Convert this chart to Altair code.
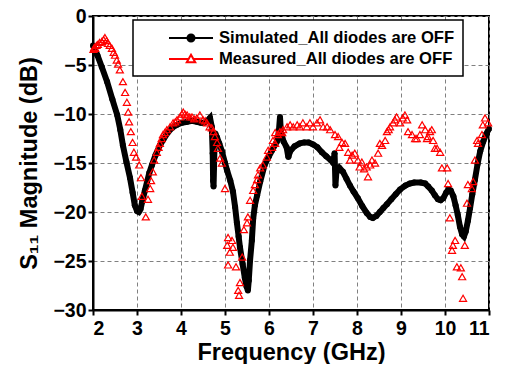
import altair as alt
import pandas as pd

# ---------------- data ----------------
sim_f = [2.0, 2.1, 2.2, 2.32, 2.44, 2.55, 2.62, 2.68, 2.76, 2.84, 2.9, 2.95, 3.0, 3.04, 3.08,
         3.12, 3.18, 3.23, 3.28, 3.34, 3.42, 3.52, 3.6, 3.7, 3.8, 3.91, 4.02, 4.14, 4.25, 4.36,
         4.45, 4.52, 4.6, 4.66, 4.7, 4.72, 4.73, 4.74, 4.75, 4.76, 4.78, 4.82, 4.87, 4.93, 5.0,
         5.05, 5.12, 5.18, 5.23, 5.27, 5.31, 5.34, 5.4, 5.45, 5.49, 5.52, 5.54, 5.57, 5.61, 5.64,
         5.68, 5.73, 5.8, 5.9, 6.0, 6.07, 6.18, 6.22, 6.25, 6.27, 6.33, 6.4, 6.44, 6.48, 6.58,
         6.7, 6.8, 6.9, 7.0, 7.1, 7.2, 7.3, 7.4, 7.46, 7.49, 7.5, 7.51, 7.53, 7.6, 7.68, 7.76,
         7.84, 7.92, 8.02, 8.12, 8.22, 8.3, 8.36, 8.44, 8.52, 8.6, 8.68, 8.78, 8.88, 8.98, 9.1,
         9.2, 9.3, 9.45, 9.55, 9.62, 9.7, 9.77, 9.84, 9.9, 9.96, 10.03, 10.08, 10.13, 10.19,
         10.24, 10.29, 10.34, 10.39, 10.43, 10.47, 10.52, 10.57, 10.62, 10.68, 10.74, 10.8,
         10.87, 10.93, 11.0]
sim_db = [-3.0, -4.0, -5.2, -6.7, -8.5, -10.1, -11.6, -13.2, -14.9, -16.5, -18.0, -19.3, -19.9,
          -20.0, -19.7, -18.9, -17.8, -16.9, -16.0, -15.2, -14.2, -13.2, -12.6, -11.9, -11.4,
          -11.1, -10.9, -10.8, -10.7, -10.8, -10.9, -10.9, -10.7, -10.4, -11.3, -14.0, -16.8,
          -17.4, -15.5, -13.5, -12.0, -12.4, -13.0, -13.8, -15.0, -15.8, -16.8, -17.9, -19.5,
          -21.1, -22.5, -23.6, -25.3, -26.7, -27.6, -28.0, -27.0, -24.9, -22.9, -20.7, -19.3,
          -18.3, -16.9, -15.2, -14.3, -13.7, -12.8, -12.0, -10.3, -11.8, -12.8, -13.4, -14.4,
          -13.8, -13.3, -13.0, -12.9, -12.9, -13.1, -13.4, -13.9, -14.3, -14.7, -15.0, -14.0,
          -15.5, -17.3, -16.0, -15.5, -15.9, -16.6, -17.3, -17.9, -18.6, -19.4, -20.1, -20.5,
          -20.6, -20.4, -20.0, -19.6, -19.2, -18.7, -18.2, -17.7, -17.3, -17.1, -17.0, -17.0,
          -17.1, -17.4, -17.8, -18.3, -18.7, -18.8, -18.6, -18.0, -17.7, -17.8, -18.4, -19.3,
          -20.3, -21.5, -22.3, -22.5, -22.0, -20.9, -19.6, -18.2, -16.7, -15.1, -13.8, -12.8,
          -12.1, -11.5]

meas_f = [2.01, 2.03, 2.05, 2.08, 2.11, 2.15, 2.2, 2.24, 2.27, 2.31, 2.34, 2.38, 2.43, 2.47, 2.5,
          2.54, 2.57, 2.61, 2.68, 2.73, 2.77, 2.8, 2.82, 2.86, 2.9, 2.93, 2.98, 3.05, 3.09, 3.11,
          3.2, 3.25, 3.3, 3.32, 3.36, 3.39, 3.45, 3.49, 3.52, 3.56, 3.59, 3.63, 3.68, 3.75, 3.82,
          3.87, 3.91, 3.98, 4.02, 4.05, 4.09, 4.14, 4.2, 4.25, 4.3, 4.36, 4.43, 4.5, 4.55, 4.59,
          4.65, 4.7, 4.74, 4.77, 4.82, 4.84, 4.89, 4.93, 5.0, 5.05, 5.07, 5.11, 5.16, 5.18, 5.07,
          5.25, 5.34, 5.3, 5.32, 5.39, 5.43, 5.5, 5.52, 5.57, 5.64, 5.68, 5.73, 5.75, 5.8, 5.86,
          5.95, 5.98, 6.07, 6.09, 6.14, 6.14, 6.2, 6.25, 6.3, 6.32, 6.41, 6.48, 6.55, 6.64, 6.7,
          6.77, 6.86, 6.93, 7.0, 7.09, 7.16, 7.23, 7.32, 7.39, 7.5, 7.57, 7.6, 7.66, 7.73, 7.8,
          7.84, 7.89, 7.95, 8.02, 8.06, 8.11, 8.16, 8.22, 8.25, 8.3, 8.34, 8.41, 8.48, 8.52, 8.57,
          8.64, 8.68, 8.72, 8.75, 8.82, 8.86, 8.9, 8.98, 9.04, 9.09, 9.14, 9.16, 9.25, 9.32, 9.36,
          9.43, 9.48, 9.55, 9.61, 9.59, 9.66, 9.7, 9.73, 9.77, 9.82, 9.89, 9.93, 10.05, 10.07,
          10.11, 10.16, 10.18, 10.23, 10.27, 10.36, 10.39, 10.41, 10.45, 10.5, 10.52, 10.61,
          10.64, 10.68, 10.73, 10.75, 10.84, 10.86, 10.91, 10.98]
meas_db = [-3.4, -3.2, -3.3, -3.0, -2.9, -2.7, -2.6, -2.4, -2.2, -2.5, -2.8, -3.0, -3.3, -3.7,
           -4.0, -4.5, -4.9, -5.5, -6.7, -7.8, -8.8, -9.8, -10.8, -11.8, -12.9, -13.9, -14.4,
           -15.2, -16.5, -18.4, -20.5, -18.7, -17.6, -16.8, -15.9, -14.7, -13.9, -13.4, -13.0,
           -12.5, -12.1, -11.9, -11.6, -11.3, -10.9, -10.8, -10.6, -10.3, -10.0, -9.8, -10.0,
           -10.1, -10.3, -10.3, -10.5, -10.4, -10.1, -10.6, -10.7, -10.9, -11.3, -11.4, -11.8,
           -12.3, -12.9, -13.5, -14.5, -15.0, -17.6, -23.4, -22.6, -24.1, -22.9, -23.6, -25.4,
           -25.6, -27.2, -28.0, -28.5, -24.6, -21.8, -21.1, -20.5, -18.8, -17.8, -17.2, -16.7,
           -16.2, -15.5, -15.2, -14.4, -13.7, -13.4, -12.7, -13.0, -11.9, -12.1, -11.8, -11.9,
           -11.6, -11.3, -11.1, -11.3, -11.1, -11.3, -10.9, -11.3, -10.9, -11.3, -10.9, -10.6,
           -11.3, -11.3, -11.6, -12.1, -12.3, -13.4, -12.9, -13.0, -13.9, -14.7, -14.2, -14.0,
           -14.7, -15.4, -14.9, -15.6, -15.4, -16.4, -15.2, -14.7, -15.0, -14.0, -13.0, -13.2,
           -12.7, -11.8, -11.6, -11.3, -10.9, -10.6, -10.3, -10.9, -10.4, -10.1, -10.6, -11.8,
           -12.1, -12.5, -12.5, -12.1, -11.1, -11.6, -12.3, -12.5, -11.8, -11.6, -12.7, -13.5,
           -13.5, -13.9, -15.5, -15.5, -17.1, -20.6, -23.9, -23.4, -22.9, -25.6, -25.7, -26.6,
           -28.8, -23.4, -19.1, -17.2, -17.6, -16.9, -14.7, -12.7, -13.0, -12.1, -11.1, -10.4,
           -10.9]

series = ["Simulated_All diodes are OFF", "Measured_All diodes are OFF"]
x_ticks = [2, 3, 4, 5, 6, 7, 8, 9, 10, 11]
y_ticks = [0, -5, -10, -15, -20, -25, -30]

FONT = "Liberation Sans"
NBSP = "\u00a0"

sim = pd.DataFrame({"f": sim_f, "db": sim_db, "i": list(range(len(sim_f)))})
meas = pd.DataFrame({"f": meas_f, "db": meas_db})
leg = pd.DataFrame({"s": series})

x_enc = alt.X("f:Q", scale=alt.Scale(domain=[2, 11], nice=False),
              axis=alt.Axis(values=x_ticks, title="Frequency (GHz)", labelPadding=4,
                            titlePadding=3, format="d"))
y_enc = alt.Y("db:Q", scale=alt.Scale(domain=[-30, 0], nice=False),
              axis=alt.Axis(values=y_ticks, title="S\u2081\u2081 Magnitude (dB)", labelPadding=2,
                            titlePadding=11, format="d"))

sim_line = alt.Chart(sim).mark_line(color="black", strokeWidth=6).encode(
    x=x_enc, y=y_enc, order=alt.Order("i:Q"))
sim_pts = alt.Chart(sim).mark_circle(color="black", size=36, opacity=1).encode(x=x_enc, y=y_enc)

meas_pts = alt.Chart(meas).mark_point(shape="triangle-up", filled=False, color="red",
                                      size=50, strokeWidth=1.2, opacity=1).encode(x=x_enc, y=y_enc)

# legend symbols: a line with the marker on it (leading move-to only reserves room);
# the dot is drawn as concentric stroked rings so it reads as a solid disc
def ring(r):
    return f"M-{r},0A{r},{r},0,1,0,{r},0A{r},{r},0,1,0,-{r},0Z"

sym_sim = "M-5.57,0M-2.5,0L2.5,0" + ring(0.4) + ring(0.26) + ring(0.12)
sym_meas = "M-5.57,0M-2.5,0L-0.3,0M0.3,0L2.5,0M0,-0.48L0.48,0.36L-0.48,0.36Z"

legend_def = alt.Legend(title=None, orient="none", legendX=40, legendY=4,
                        padding=8, symbolOffset=40, labelOffset=18, rowPadding=2,
                        labelFont=FONT, labelFontSize=16.6, labelFontWeight="bold",
                        labelColor="black", labelLimit=500, symbolStrokeWidth=2,
                        strokeColor="black", fillColor="white", symbolSize=310,
                        labelExpr="datum.label + '" + NBSP * 6 + "'")

legend_layer = alt.Chart(leg).mark_point(opacity=0, size=310, strokeWidth=2, filled=True).encode(
    stroke=alt.Stroke("s:N", scale=alt.Scale(domain=series, range=["black", "red"]), legend=legend_def),
    shape=alt.Shape("s:N", scale=alt.Scale(domain=series, range=[sym_sim, sym_meas]), legend=legend_def),
    fill=alt.Fill("s:N", scale=alt.Scale(domain=series, range=["black", "white"]), legend=legend_def),
)

chart = alt.layer(sim_line, sim_pts, meas_pts, legend_layer).properties(
    width=396, height=294,
    autosize=alt.AutoSizeParams(type="none"),
    padding={"left": 85, "top": 8, "right": 11, "bottom": 54},
    background="white",
).configure_axis(
    labelFont=FONT, labelFontSize=19.5, labelFontWeight="bold", labelColor="black",
    titleFont=FONT, titleFontSize=23.5, titleFontWeight="bold", titleColor="black",
    domainColor="black", domainWidth=2, tickColor="black", tickWidth=2, tickSize=5,
    gridColor="#808080", gridDash=[4, 3], gridWidth=1,
).configure_view(stroke="black", strokeWidth=2).configure_legend(strokeWidth=1.5)

chart.save("out.html", embed_options={"renderer": "svg", "actions": False})
